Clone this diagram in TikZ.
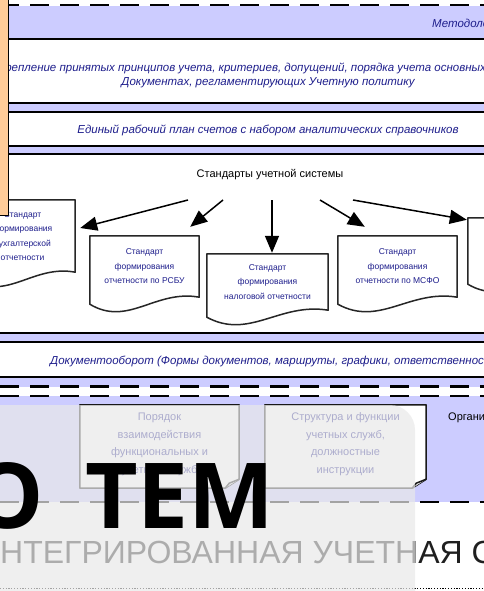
\documentclass[tikz,border=0pt]{standalone}
\usepackage{fontspec}
\setmainfont{Liberation Sans}
\newfontfamily\headfont{Open Sans}
\usetikzlibrary{positioning,calc,arrows.meta}
\definecolor{lavband}{RGB}{204,204,255}
\definecolor{peach}{RGB}{255,204,153}
\definecolor{navytext}{RGB}{30,30,140}
\definecolor{veilgray}{RGB}{233,233,233}
\newcommand\docframe[1]{\draw[docline] (#1.north west) -- (#1.north east) -- (#1.south east)
  .. controls ($(#1.south east)!0.4!(#1.south west)+(0,-8)$) and ($(#1.south east)!0.65!(#1.south west)+(0,30)$) .. ($(#1.south west)+(0,7)$) -- cycle;}
\newcommand\noteframe[1]{\draw[noteline] (#1.north west) -- (#1.north east) -- ($(#1.south east)+(0,-9)$) -- ($(#1.south east)+(-14,0)$) -- (#1.south west) -- cycle;
  \draw[noteline,fill=black!10] ($(#1.south east)+(0,-9)$) -- ($(#1.south east)+(-10,-5)$) -- ($(#1.south east)+(-14,0)$);}
\begin{document}
\begin{tikzpicture}[x=1pt,y=-1pt,line join=round,>={Triangle[length=17pt,width=14pt]}]
	\tikzset{band/.style={draw,line width=1.6pt,fill=white},
		bandtext/.style={font=\fontsize{11.5}{14}\selectfont\itshape,text=navytext,align=center,inner sep=0pt},
		docnode/.style 2 args={minimum width=#1,minimum height=#2,inner sep=0pt,align=center,font=\fontsize{8.5}{14.5}\selectfont,text=navytext},
		docline/.style={draw=black!85,line width=1.5pt},
		noteline/.style={draw=black!90,line width=1.5pt,fill=white},
		notetext/.style={font=\fontsize{11}{17.5}\selectfont,text=navytext,align=center,inner sep=0pt},
		dashrule/.style={line width=2.6pt,dash pattern=on 19pt off 11pt},
		arr/.style={->,line width=1.5pt}}
	\clip (0,0) rectangle (484,591);
	\fill[white] (0,0) rectangle (484,591);
	\fill[lavband] (0,6) rectangle (484,386.5);
	\fill[lavband] (0,396) rectangle (484,502);
	\draw[dashrule] (0,5) -- (484,5);
	\draw[band] (-5,39) rectangle (490,103);
	\draw[band] (-5,112) rectangle (490,146);
	\draw[band] (-5,154) rectangle (490,333);
	\draw[band] (-5,342) rectangle (490,377);
	\draw[dashrule] (0,386.5) -- (484,386.5);
	\draw[dashrule] (0,396) -- (484,396);
	\draw[dashrule] (0,502) -- (484,502);
	\node[bandtext,anchor=west] (method) at (432,24) {Методологический уровень};
	\node[bandtext] (policy) at (268,75) {Закрепление принятых принципов учета, критериев, допущений, порядка учета основных операций в\\Документах, регламентирующих Учетную политику};
	\node[bandtext] (chart) at (268,130) {Единый рабочий план счетов с набором аналитических справочников};
	\node[bandtext,anchor=west] (flow) at (50,361) {Документооборот (Формы документов, маршруты, графики, ответственность)};
	\node[font=\fontsize{11}{13}\selectfont,inner sep=0pt] (stdtitle) at (270,175) {Стандарты учетной системы};
	\node[docnode={105pt}{72pt}] (d1) at (22.5,236) {Стандарт\\формирования\\бухгалтерской\\отчетности};
	\node[docnode={109pt}{61pt}] (d2) at (144.5,266.5) {Стандарт\\формирования\\отчетности по РСБУ};
	\node[docnode={121pt}{56pt}] (d3) at (267.5,282) {Стандарт\\формирования\\налоговой отчетности};
	\node[docnode={119pt}{61pt}] (d4) at (397.5,266.5) {Стандарт\\формирования\\отчетности по МСФО};
	\node[docnode={112pt}{59pt}] (d5) at (524,247.5) {Стандарт\\формирования\\управленческой\\отчетности};
	\docframe{d1}\docframe{d2}\docframe{d3}\docframe{d4}\docframe{d5}
	\coordinate (s1) at (188,200);
	\coordinate (s2) at (223,200);
	\coordinate (s3) at (272,200);
	\coordinate (s4) at (320,200);
	\coordinate (s5) at (353,200);
	\draw[arr] (s1) -- ([shift={(5,-8)}]d1.east);
	\draw[arr] (s2) -- ([shift={(-9,-9)}]d2.north east);
	\draw[arr] (s3) -- ([shift={(4.5,-1)}]d3.north);
	\draw[arr] (s4) -- ([shift={(27,-9)}]d4.north west);
	\draw[arr] (s5) -- ([shift={(-1,2)}]d5.north west);
	\draw[fill=peach,line width=1pt] (-5,-5) rectangle (8.5,215);
	\node[minimum width=159pt,minimum height=83pt,inner sep=0pt] (ordbox) at (159.5,446.5) {};
	\noteframe{ordbox}
	\node[notetext,below=8pt of ordbox.north] (ordtext) {Порядок\\взаимодействия\\функциональных и\\учетных служб};
	\node[minimum width=161pt,minimum height=83pt,inner sep=0pt] (structbox) at (345.5,446.5) {};
	\noteframe{structbox}
	\node[notetext,below=8pt of structbox.north] (structtext) {Структура и функции\\учетных служб,\\должностные\\инструкции};
	\node[font=\fontsize{11}{13}\selectfont,anchor=west,inner sep=0pt] (org) at (448,418) {Организационный уровень};
	\node[font=\fontsize{32}{32}\selectfont,anchor=base west,inner sep=0pt,text=black!88] (subtitle) at (-23,563) {ИНТЕГРИРОВАННАЯ УЧЕТНАЯ СИСТЕМА};
	\draw[line width=0.8pt,dash pattern=on 1.2pt off 1.6pt] (0,588) -- (484,588);
	\fill[veilgray,fill opacity=0.7,rounded corners=25pt] (-30,405) -- (415,405) -- (415,620) -- (-30,620) -- cycle;
	\node[font={\headfont\bfseries\fontsize{91}{91}\selectfont},anchor=base east,inner sep=0pt] (heading) at (275,528) {О\hspace{0.45em}ТЕМ};
\end{tikzpicture}
\end{document}
